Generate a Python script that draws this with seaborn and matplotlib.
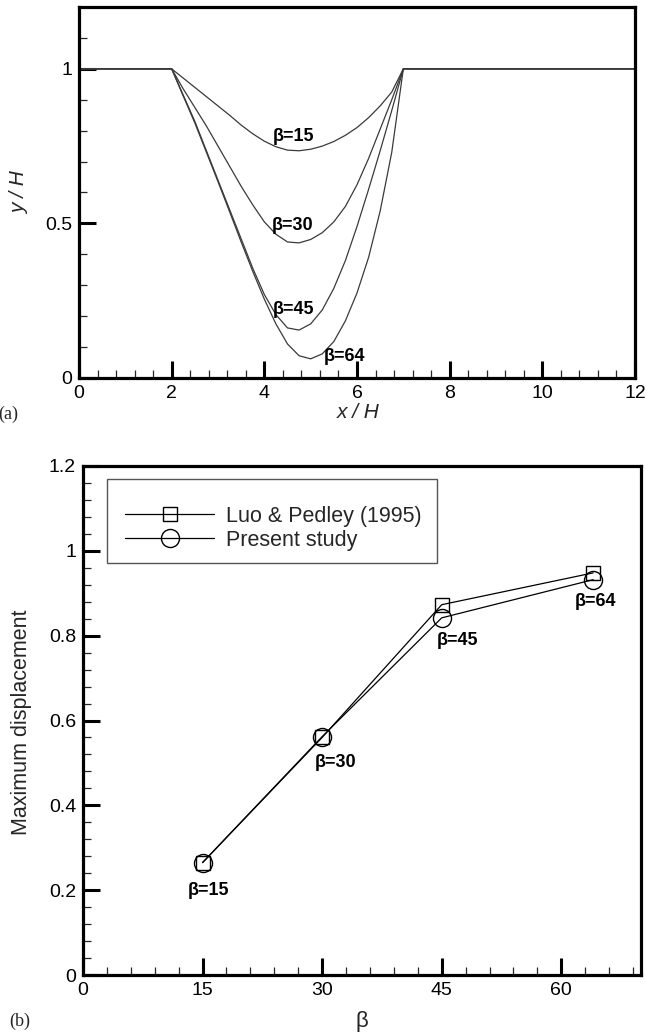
import matplotlib
matplotlib.use("Agg")
import matplotlib.pyplot as plt
import numpy as np
import pandas as pd
import seaborn as sns
from matplotlib.patches import Rectangle
from matplotlib.ticker import MultipleLocator

# ---- (a) wall profiles y/H along the channel for four values of beta ----
x_h = [0.0, 2.0, 2.25, 2.5, 2.75, 3.0, 3.25, 3.5, 3.75, 4.0, 4.25, 4.5,
       4.75, 5.0, 5.25, 5.5, 5.75, 6.0, 6.25, 6.5, 6.75, 7.0, 12.0]
wall_b15 = [1.0, 1.0, 0.970, 0.940, 0.910, 0.880, 0.850, 0.818, 0.790, 0.766,
            0.748, 0.737, 0.735, 0.740, 0.750, 0.765, 0.785, 0.810, 0.842,
            0.880, 0.925, 1.0, 1.0]
wall_b30 = [1.0, 1.0, 0.935, 0.875, 0.815, 0.750, 0.685, 0.620, 0.560, 0.505,
            0.465, 0.440, 0.437, 0.448, 0.470, 0.505, 0.555, 0.625, 0.710,
            0.805, 0.900, 1.0, 1.0]
wall_b45 = [1.0, 1.0, 0.915, 0.830, 0.735, 0.640, 0.545, 0.450, 0.355, 0.270,
            0.205, 0.162, 0.155, 0.175, 0.220, 0.290, 0.380, 0.490, 0.610,
            0.735, 0.865, 1.0, 1.0]
wall_b64 = [1.0, 1.0, 0.912, 0.825, 0.730, 0.635, 0.538, 0.440, 0.345, 0.255,
            0.175, 0.110, 0.072, 0.062, 0.078, 0.118, 0.185, 0.275, 0.390,
            0.540, 0.730, 1.0, 1.0]
profile_names = ["\u03b2=15", "\u03b2=30", "\u03b2=45", "\u03b2=64"]
profile_label_x = [4.63, 4.62, 4.63, 5.74]
profile_label_y = [0.781, 0.494, 0.221, 0.071]

# ---- (b) maximum wall displacement against beta ----
beta = [15, 30, 45, 64]
luo_pedley = [0.265, 0.560, 0.873, 0.948]
present = [0.265, 0.562, 0.842, 0.932]
beta_labels = ["\u03b2=15", "\u03b2=30", "\u03b2=45", "\u03b2=64"]
beta_label_x = [15.8, 31.7, 47.0, 64.3]
beta_label_y = [0.200, 0.502, 0.788, 0.880]

sns.set_theme(style="ticks")
plt.rcParams["font.family"] = ["Liberation Sans", "DejaVu Sans"]

fig = plt.figure(figsize=(6.46, 10.35), dpi=100)
W, H = 646.0, 1035.0


def px_axes(left, top, right, bottom):
    return fig.add_axes([left / W, 1 - bottom / H, (right - left) / W, (bottom - top) / H])


def style_axes(ax):
    for s in ax.spines.values():
        s.set_linewidth(2.3)
        s.set_color("black")
    ax.tick_params(which="major", direction="in", length=12, width=2.2,
                   top=False, right=False, labelsize=14, pad=5, colors="black")
    ax.tick_params(which="minor", direction="in", length=6, width=0.9,
                   top=False, right=False)
    ax.grid(False)


# ---------------- panel (a) ----------------
ax1 = px_axes(79, 7, 635, 378)
rows = []
for name, ys in zip(profile_names, [wall_b15, wall_b30, wall_b45, wall_b64]):
    for xv, yv in zip(x_h, ys):
        rows.append({"x": xv, "y": yv, "beta": name})
profiles = pd.DataFrame(rows)
sns.lineplot(data=profiles, x="x", y="y", units="beta", estimator=None,
             sort=False, color="#3a3a3a", linewidth=0.9, ax=ax1)
ax1.set_xlim(0, 12)
ax1.set_ylim(0, 1.2)
ax1.xaxis.set_major_locator(MultipleLocator(2))
ax1.xaxis.set_minor_locator(MultipleLocator(0.4))
ax1.yaxis.set_minor_locator(MultipleLocator(0.1))
ax1.set_yticks([0, 0.5, 1])
ax1.set_yticklabels(["0", "0.5", "1"])
ax1.set_xlabel("")
ax1.set_ylabel("")
style_axes(ax1)
for t, xv, yv in zip(profile_names, profile_label_x, profile_label_y):
    ax1.text(xv, yv, t, ha="center", va="center", fontsize=13,
             fontweight="bold", color="black")

fig.text(358 / W, 1 - 413 / H, "x / H", ha="center", va="center",
         fontsize=15, style="italic")
fig.text(20 / W, 1 - 193 / H, "y / H", ha="center", va="center",
         fontsize=15, style="italic", rotation=90)
fig.text(8 / W, 1 - 414 / H, "(a)", ha="center", va="center",
         fontsize=13, family="Liberation Serif")

# ---------------- panel (b) ----------------
ax2 = px_axes(83, 466, 641, 975)
sns.lineplot(x=beta, y=luo_pedley, marker="s", markersize=9.5, mfc="none",
             mec="black", mew=1.0, color="black", linewidth=0.9,
             label="Luo & Pedley (1995)", ax=ax2)
sns.lineplot(x=beta, y=present, marker="o", markersize=13, mfc="none",
             mec="black", mew=1.0, color="black", linewidth=0.9,
             label="Present study", ax=ax2)
ax2.set_xlim(0, 70)
ax2.set_ylim(0, 1.2)
ax2.xaxis.set_major_locator(MultipleLocator(15))
ax2.xaxis.set_minor_locator(MultipleLocator(3))
ax2.yaxis.set_minor_locator(MultipleLocator(0.04))
ax2.set_yticks([0, 0.2, 0.4, 0.6, 0.8, 1.0, 1.2])
ax2.set_yticklabels(["0", "0.2", "0.4", "0.6", "0.8", "1", "1.2"])
ax2.set_xlabel("")
ax2.set_ylabel("")
style_axes(ax2)
for t, xv, yv in zip(beta_labels, beta_label_x, beta_label_y):
    ax2.text(xv, yv, t, ha="center", va="center", fontsize=13,
             fontweight="bold", color="black")

# legend entries without their own frame; the box is drawn separately
axw, axh = 558.0, 509.0
handles, labels = ax2.get_legend_handles_labels()
leg = ax2.legend(handles, labels, loc="upper left",
                 bbox_to_anchor=((125 - 83) / axw, (975 - 506) / axh),
                 frameon=False, fontsize=15.5, handlelength=4.15,
                 handletextpad=0.55, borderpad=0, labelspacing=0.12,
                 borderaxespad=0)
ax2.add_patch(Rectangle(((107 - 83) / axw, (975 - 563) / axh),
                        (437 - 107) / axw, (563 - 479) / axh,
                        transform=ax2.transAxes, fill=False,
                        edgecolor="#555555", linewidth=1.0, zorder=5))

fig.text(22 / W, 1 - 722 / H, "Maximum displacement", ha="center",
         va="center", fontsize=15.5, rotation=90)
fig.text(362 / W, 1 - 1021 / H, "\u03b2", ha="center", va="center", fontsize=16)
fig.text(20 / W, 1 - 1021 / H, "(b)", ha="center", va="center",
         fontsize=13, family="Liberation Serif")

fig.savefig("out.png", dpi=100)
